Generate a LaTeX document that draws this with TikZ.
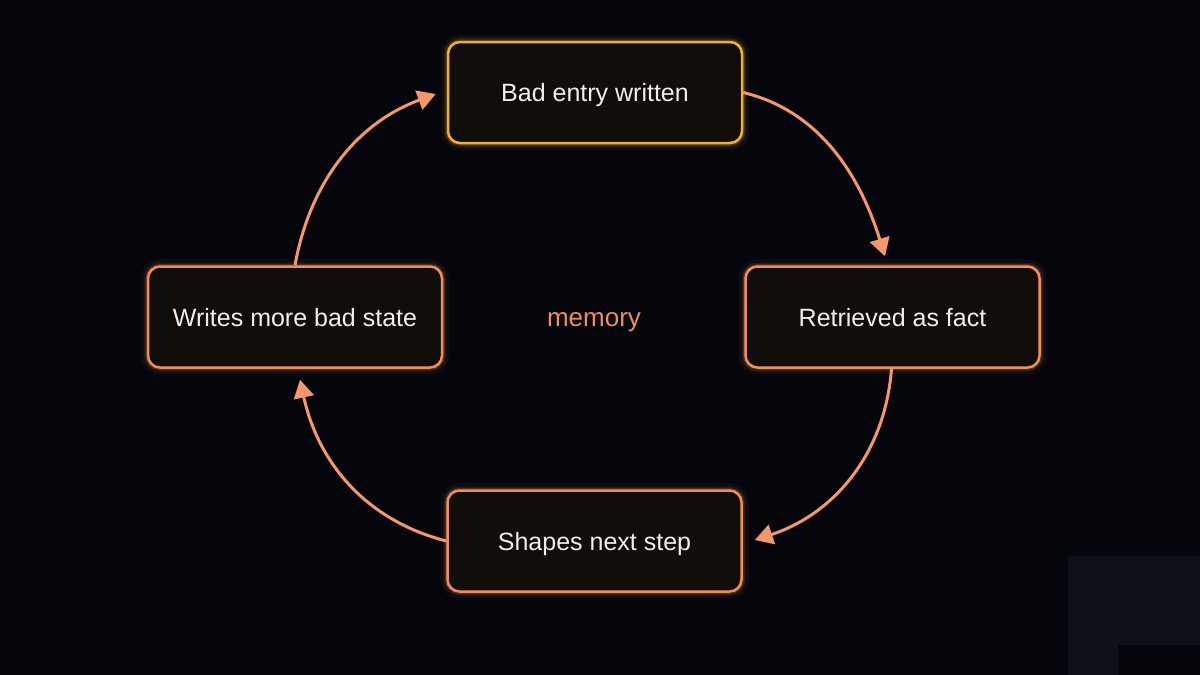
\documentclass[tikz,border=0pt]{standalone}
\usepackage{fontspec}
\setmainfont{Liberation Sans}
\usetikzlibrary{arrows.meta,calc}
\definecolor{bg}{HTML}{05060C}
\definecolor{boxfill}{HTML}{110D0A}
\definecolor{orng}{HTML}{EE8F58}
\definecolor{gold}{HTML}{F2B126}
\definecolor{arrowc}{HTML}{F4976A}
\definecolor{txt}{HTML}{F2EFEA}
\definecolor{panel}{HTML}{0D1017}
\tikzset{
  cyclebox/.style={draw=#1, line width=2.5pt, fill=boxfill, rounded corners=12pt,
    minimum width=294pt, minimum height=101pt, inner sep=0pt, text=txt,
    text height=18pt, text depth=0pt,
    font=\fontsize{25}{30}\selectfont,
    preaction={draw=#1, line width=14pt, draw opacity=0.05, fill opacity=0},
    preaction={draw=#1, line width=8pt, draw opacity=0.10, fill opacity=0},
    preaction={draw=#1, line width=5pt, draw opacity=0.18, fill opacity=0}},
  cyclebox/.default=orng,
  flow/.style={draw=arrowc, line width=3pt, -{Triangle[length=18pt,width=20pt]}},
  centerlabel/.style={text=orng, font=\fontsize{26}{30}\selectfont,
    text height=14pt, text depth=0pt, inner sep=0pt}
}
\begin{document}
\begin{tikzpicture}[x=1pt,y=-1pt]
  \fill[bg] (0,0) rectangle (1200,675);
  \useasboundingbox (0,0) rectangle (1200,675);
  \fill[panel] (1068,556) -- (1200,556) -- (1200,645) -- (1118,645) -- (1118,675) -- (1068,675) -- cycle;

  \node[cyclebox=gold] (top) at (595,92.5) {Bad entry written};
  \node[cyclebox] (right) at (892.5,317) {Retrieved as fact};
  \node[cyclebox] (bottom) at (594.5,541) {Shapes next step};
  \node[cyclebox] (left) at (295,317) {Writes more bad state};
  \node[centerlabel] (mem) at (594,319) {memory};

  \coordinate (t1) at ($(right.north)+(-7.5,-9)$);
  \coordinate (t2) at ($(bottom.east)+(12,-1)$);
  \coordinate (t3) at ($(left.south)+(5,11)$);
  \coordinate (t4) at ($(top.west)+(-11,1.5)$);

  \draw[flow] (top.east) .. controls (820,111) and (860,176) .. (t1);
  \draw[flow] ($(right.south)+(-1,0)$) .. controls (885,454) and (834,514) .. (t2);
  \draw[flow] (bottom.west) .. controls (365,520) and (318,462) .. (t3);
  \draw[flow] (left.north) .. controls (310,182) and (357,123) .. (t4);
\end{tikzpicture}
\end{document}
